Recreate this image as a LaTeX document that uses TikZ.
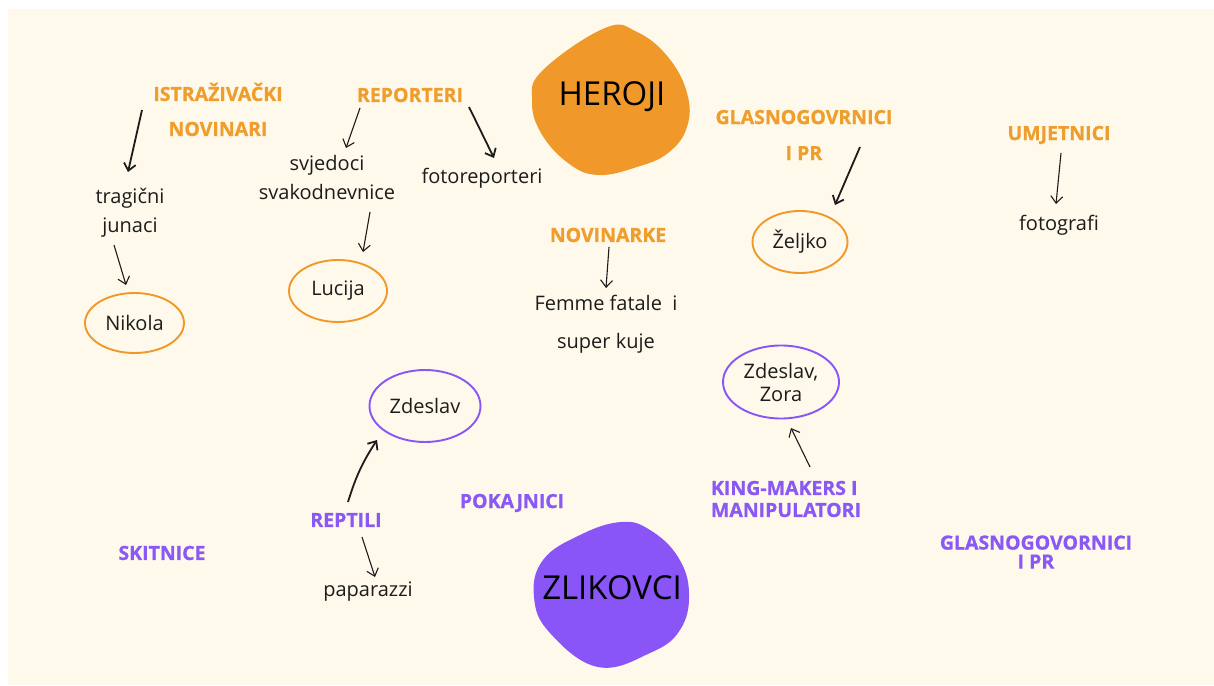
\documentclass[tikz,border=0pt]{standalone}
\usepackage{fontspec}
\setmainfont{Open Sans}
\newfontfamily\hfont{Open Sans}[BoldFeatures={RawFeature={embolden=0.8}}]
\usetikzlibrary{arrows.meta,shapes.geometric}
\definecolor{bg}{HTML}{FEF9EA}
\definecolor{org}{HTML}{F0992A}
\definecolor{orgt}{HTML}{EF9D2C}
\definecolor{pur}{HTML}{8A55F7}
\definecolor{purt}{HTML}{8A58F4}
\definecolor{ink}{HTML}{1C1C1C}
\begin{document}
\begin{tikzpicture}[x=1pt,y=-1pt,
  head/.style={font=\hfont\fontsize{19.5}{22}\selectfont\bfseries, inner sep=0pt, align=center},
  ohead/.style={head,text=orgt},
  phead/.style={head,text=purt},
  body/.style={font=\fontsize{20}{29}\selectfont, text=ink, inner sep=0pt, align=center},
  ring/.style={ellipse, draw, line width=1.9pt, inner sep=0pt, font=\fontsize{20}{23}\selectfont, text=ink, align=center},
  oring/.style={ring, draw=org},
  pring/.style={ring, draw=pur},
  arr/.style={-{Straight Barb[length=7pt,width=12pt]}, line width=1.1pt, draw=ink},
  arrb/.style={arr, line width=1.8pt},
  bigtxt/.style={font=\fontsize{33}{36}\selectfont, text=black, inner sep=0pt}
]
\useasboundingbox (0,0) rectangle (1214,685);
\fill[white] (0,0) rectangle (1214,685);
\fill[bg] (8,9) rectangle (1214,685);

% blobs
\fill[org] plot[smooth cycle, tension=0.7] coordinates {(605,28) (637,32) (668,57) (687,93) (687,127) (668,153) (637,167) (598,175) (568,163) (541,133) (532,100) (543,70)};
\fill[pur] plot[smooth cycle, tension=0.7] coordinates {(621,522) (650,530) (678,557) (689,593) (680,630) (650,653) (598,667) (550,633) (534,597) (543,560) (580,535)};
\node[bigtxt] (heroji) at (612,97) {HEROJI};
\node[bigtxt] (zlikovci) at (612,588) {ZLIKOVCI};

% orange headings
\node[ohead, font=\hfont\fontsize{19.5}{35}\selectfont\bfseries] (ist) at (218,109.5) {ISTRAŽIVAČKI\\NOVINARI};
\node[ohead] (rep) at (410,95) {REPORTERI};
\node[ohead, font=\hfont\fontsize{19.5}{36}\selectfont\bfseries] (glas) at (804,135) {GLASNOGOVRNICI\\I PR};
\node[ohead] (umj) at (1059,135) {UMJETNICI};
\node[ohead] (novk) at (608,235) {NOVINARKE};

% body texts
\node[body] (trag) at (130,212.5) {tragični\\junaci};
\node[body] (svj) at (327,177.5) {svjedoci\\svakodnevnice};
\node[body] (foto) at (482,178) {fotoreporteri};
\node[body] (fotog) at (1059,225) {fotografi};
\node[body, font=\fontsize{20}{38}\selectfont] (femme) at (606,324) {Femme fatale\ \ i\\super kuje};
\node[body] (papa) at (368,592) {paparazzi};

% orange rings
\node[oring, minimum width=99pt, minimum height=60pt] (nik) at (134.5,323) {Nikola};
\node[oring, minimum width=98pt, minimum height=62pt] (luc) at (338,291) {Lucija};
\node[oring, minimum width=95pt, minimum height=62pt] (zel) at (800,242) {Željko};

% purple rings
\node[pring, minimum width=111pt, minimum height=72pt] (zde) at (425,406) {Zdeslav};
\node[pring, minimum width=116pt, minimum height=73pt] (zz) at (781,382) {Zdeslav,\\Zora};

% purple headings
\node[phead] (rept) at (346,520) {REPTILI};
\node[phead] (skit) at (162,553) {SKITNICE};
\node[phead] (pok) at (512,503) {POKAJNICI};
\node[phead, align=left, font=\hfont\fontsize{19.5}{22}\selectfont\bfseries] (king) at (786,499) {KING-MAKERS I\\MANIPULATORI};
\node[phead, font=\hfont\fontsize{19.5}{19}\selectfont\bfseries] (glas2) at (1036,552) {GLASNOGOVORNICI\\I PR};

% arrow end points
\coordinate (a1s) at (142,110); \coordinate (a1e) at (128,172);
\coordinate (a2s) at (114,245); \coordinate (a2e) at (126,285);
\coordinate (a3s) at (360,108); \coordinate (a3e) at (346,148);
\coordinate (a4s) at (469,107); \coordinate (a4e) at (494,158);
\coordinate (a5s) at (370,212); \coordinate (a5e) at (363,252);
\coordinate (a6s) at (860,147); \coordinate (a6e) at (835,205);
\coordinate (a7s) at (1061,153); \coordinate (a7e) at (1056,204);
\coordinate (a8s) at (609,247); \coordinate (a8e) at (606,288);
\coordinate (a9s) at (348,502); \coordinate (a9e) at (377,440);
\coordinate (a10s) at (362,537); \coordinate (a10e) at (375,577);
\coordinate (a11s) at (810,467); \coordinate (a11e) at (791,428);

\draw[arrb] (a1s) -- (a1e);
\draw[arr] (a2s) -- (a2e);
\draw[arr] (a3s) -- (a3e);
\draw[arrb] (a4s) -- (a4e);
\draw[arr] (a5s) -- (a5e);
\draw[arrb] (a6s) -- (a6e);
\draw[arr] (a7s) -- (a7e);
\draw[arr] (a8s) -- (a8e);
\draw[arrb] (a9s) to[bend left=8] (a9e);
\draw[arr] (a10s) -- (a10e);
\draw[arr] (a11s) -- (a11e);
\end{tikzpicture}
\end{document}
